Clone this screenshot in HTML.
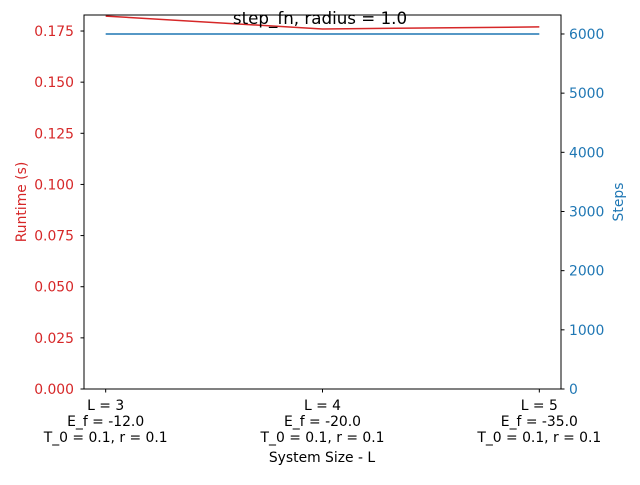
<!DOCTYPE html>
<html><head><meta charset="utf-8"><style>
body{margin:0;background:#fff}
svg text{font-family:"DejaVu Sans","Liberation Sans",sans-serif}
</style></head><body>
<svg id="c" width="640" height="480" xmlns="http://www.w3.org/2000/svg"></svg>
<script>
const categories=["L = 3|E_f = -12.0|T_0 = 0.1, r = 0.1","L = 4|E_f = -20.0|T_0 = 0.1, r = 0.1","L = 5|E_f = -35.0|T_0 = 0.1, r = 0.1"];
const runtimeValues=[0.1823,0.1760,0.1770];
const stepValues=[6000,6000,6000];
const leftTicks=[0,0.025,0.05,0.075,0.1,0.125,0.15,0.175];
const rightTicks=[0,1000,2000,3000,4000,5000,6000];
const NS="http://www.w3.org/2000/svg";
const svg=document.getElementById('c');
const L=84,R=561,T=15,B=389;
const x=i=>L+(i+0.1)/2.2*(R-L);
const yl=v=>B-v/0.025*51.14;
const yr=v=>B-v/1000*59.17;
function mk(t,a,p){const e=document.createElementNS(NS,t);for(const k in a)e.setAttribute(k,a[k]);(p||svg).appendChild(e);return e;}
const defs=mk('defs',{});const cp=mk('clipPath',{id:'pc'},defs);mk('rect',{x:L,y:T,width:R-L,height:B-T},cp);
const g=mk('g',{'clip-path':'url(#pc)'});
const red=mk('polyline',{points:runtimeValues.map((v,i)=>x(i)+','+yl(v)).join(' '),fill:'none',stroke:'#d62728','stroke-width':1.5},g);

const blue=mk('polyline',{points:stepValues.map((v,i)=>x(i)+','+yr(v)).join(' '),fill:'none',stroke:'#1f77b4','stroke-width':1.5},g);

const fr=mk('rect',{x:L,y:T,width:R-L,height:B-T,fill:'none',stroke:'#000','stroke-width':1});

const FS=13.9;
leftTicks.forEach(v=>{const y=yl(v);mk('line',{x1:L-3.5,x2:L,y1:y,y2:y,stroke:'#000'});
 const t=mk('text',{x:L-10,y:y+5,'text-anchor':'end','font-size':FS,fill:'#d62728'});t.textContent=v.toFixed(3);
 });
rightTicks.forEach(v=>{const y=yr(v);mk('line',{x1:R,x2:R+3.5,y1:y,y2:y,stroke:'#000'});
 const t=mk('text',{x:R+8,y:y+5,'text-anchor':'start','font-size':FS,fill:'#1f77b4'});t.textContent=v;
 });
categories.forEach((c,i)=>{const xx=x(i);mk('line',{x1:xx,x2:xx,y1:B,y2:B+3.5,stroke:'#000'});
 c.split('|').forEach((s,j)=>{const t=mk('text',{x:xx,y:B+21+j*16,'text-anchor':'middle','font-size':FS});t.textContent=s;
 });});
let t=mk('text',{x:322,y:462,'text-anchor':'middle','font-size':FS});t.textContent='System Size - L';

t=mk('text',{x:0,y:0,'text-anchor':'middle','font-size':FS,fill:'#d62728',transform:'translate(26,202) rotate(-90)'});t.textContent='Runtime (s)';

t=mk('text',{x:0,y:0,'text-anchor':'middle','font-size':FS,fill:'#1f77b4',transform:'translate(623,202) rotate(-90)'});t.textContent='Steps';

t=mk('text',{x:320,y:24,'text-anchor':'middle','font-size':16.7});t.textContent='step_fn, radius = 1.0';

</script>
</body></html>
